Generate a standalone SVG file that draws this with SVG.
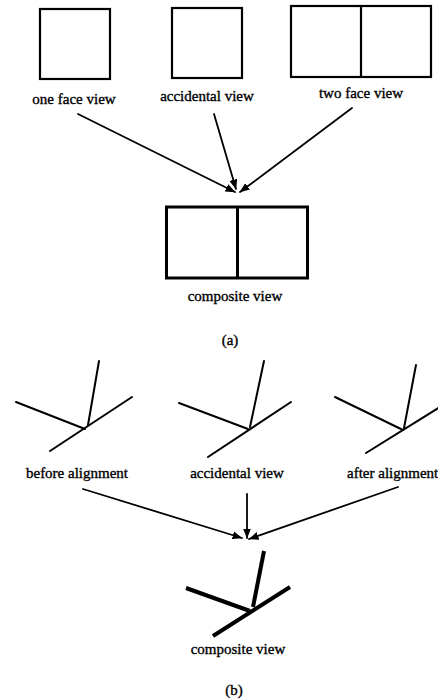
<svg xmlns="http://www.w3.org/2000/svg" width="438" height="700" viewBox="0 0 438 700">
  <style>
    .box { fill: none; stroke: #000; stroke-width: 2.2; }
    .box-bold { fill: none; stroke: #000; stroke-width: 3; }
    .edge { fill: none; stroke: #000; stroke-width: 1.8; stroke-linecap: round; }
    .stick { fill: none; stroke: #000; stroke-width: 2; stroke-linecap: round; }
    .stick-bold { fill: none; stroke: #000; stroke-width: 4; stroke-linecap: butt; }
    .label { font-family: "Liberation Serif", "Times New Roman", serif; font-size: 15px; fill: #000; stroke: #000; stroke-width: 0.35; text-anchor: middle; }
  </style>
  <defs>
    <marker id="arrow" viewBox="0 0 10 8" refX="9.5" refY="4" markerWidth="10" markerHeight="8" markerUnits="userSpaceOnUse" orient="auto">
      <path d="M0,0 L10,4 L0,8 Z" fill="#000"/>
    </marker>
  </defs>
  <rect width="438" height="700" fill="#fff"/>

  <!-- (a) face views -->
  <g id="one-face-view">
    <rect class="box" x="40" y="9" width="70" height="70"/>
    <text class="label" x="74" y="104">one face view</text>
  </g>
  <g id="accidental-view-a">
    <rect class="box" x="172" y="8" width="70" height="70"/>
    <text class="label" x="207" y="101">accidental view</text>
  </g>
  <g id="two-face-view">
    <rect class="box" x="291" y="6" width="140" height="71"/>
    <line class="box" x1="361" y1="6" x2="361" y2="77"/>
    <text class="label" x="361" y="98">two face view</text>
  </g>
  <g id="composite-view-a">
    <rect class="box-bold" x="166.5" y="207" width="141" height="71"/>
    <line class="box-bold" x1="237.5" y1="207" x2="237.5" y2="278"/>
    <text class="label" x="235" y="301">composite view</text>
  </g>
  <text class="label" x="230" y="345">(a)</text>

  <!-- (b) junction views -->
  <g id="before-alignment">
    <line class="stick" x1="50" y1="451" x2="132" y2="397"/>
    <line class="stick" x1="16" y1="402" x2="85" y2="429"/>
    <line class="stick" x1="99" y1="361" x2="88" y2="425"/>
    <text class="label" x="77" y="478">before alignment</text>
  </g>
  <g id="accidental-view-b">
    <line class="stick" x1="208" y1="457" x2="291" y2="402"/>
    <line class="stick" x1="179" y1="403" x2="248" y2="429"/>
    <line class="stick" x1="264" y1="361" x2="250" y2="427"/>
    <text class="label" x="237" y="478">accidental view</text>
  </g>
  <g id="after-alignment">
    <line class="stick" x1="366" y1="453" x2="440" y2="407"/>
    <line class="stick" x1="335" y1="397" x2="403" y2="430"/>
    <line class="stick" x1="416" y1="365" x2="404" y2="428"/>
    <text class="label" x="347" y="478" style="text-anchor:start">after alignment</text>
  </g>
  <g id="composite-view-b">
    <line class="stick-bold" x1="213" y1="636" x2="290" y2="587"/>
    <line class="stick-bold" x1="186" y1="588" x2="250" y2="611"/>
    <line class="stick-bold" x1="264" y1="551" x2="253" y2="607"/>
    <text class="label" x="238" y="654">composite view</text>
  </g>
  <text class="label" x="234" y="695">(b)</text>

  <!-- connectors -->
  <g id="connectors">
    <line class="edge" x1="78" y1="114" x2="235" y2="192" marker-end="url(#arrow)"/>
    <line class="edge" x1="214" y1="114" x2="236" y2="189" marker-end="url(#arrow)"/>
    <line class="edge" x1="352" y1="108" x2="240" y2="192" marker-end="url(#arrow)"/>
    <line class="edge" x1="83" y1="489" x2="242" y2="538" marker-end="url(#arrow)"/>
    <line class="edge" x1="247" y1="494" x2="247" y2="538" marker-end="url(#arrow)"/>
    <line class="edge" x1="398" y1="487" x2="249" y2="539" marker-end="url(#arrow)"/>
  </g>
</svg>
